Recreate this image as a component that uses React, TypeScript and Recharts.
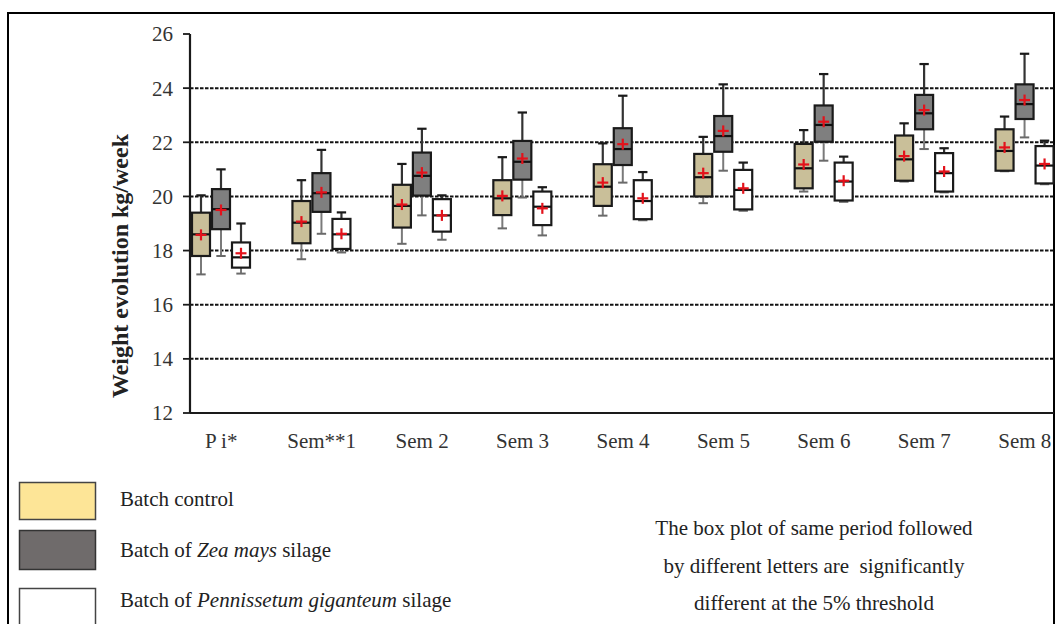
import React from "react";
import { ComposedChart, Bar, XAxis, YAxis, CartesianGrid } from "recharts";

const categories = ["P i*", "Sem**1", "Sem 2", "Sem 3", "Sem 4", "Sem 5", "Sem 6", "Sem 7", "Sem 8"];
const yTicks = [12, 14, 16, 18, 20, 22, 24, 26];
const gridValues = [14, 16, 18, 20, 22, 24];

// each entry: [min, q1, median, q3, max, mean]
const controlStats = [
  [17.12, 17.8, 18.6, 19.4, 20.04, 18.58],
  [17.68, 18.27, 19.03, 19.83, 20.6, 19.07],
  [18.25, 18.85, 19.65, 20.43, 21.2, 19.7],
  [18.82, 19.31, 19.93, 20.6, 21.45, 20.02],
  [19.29, 19.65, 20.36, 21.19, 21.96, 20.51],
  [19.75, 20.0, 20.71, 21.57, 22.2, 20.86],
  [20.18, 20.3, 21.04, 21.94, 22.45, 21.18],
  [20.55, 20.58, 21.37, 22.25, 22.7, 21.49],
  [20.93, 20.95, 21.68, 22.48, 22.95, 21.81],
];
const zeaStats = [
  [17.8, 18.79, 19.53, 20.27, 21.0, 19.5],
  [18.62, 19.43, 20.12, 20.86, 21.72, 20.15],
  [19.3, 20.03, 20.76, 21.62, 22.5, 20.88],
  [19.96, 20.62, 21.28, 22.05, 23.1, 21.4],
  [20.51, 21.16, 21.75, 22.52, 23.72, 21.93],
  [20.95, 21.65, 22.23, 22.97, 24.14, 22.42],
  [21.32, 22.02, 22.64, 23.36, 24.52, 22.76],
  [21.75, 22.48, 23.07, 23.75, 24.89, 23.19],
  [22.18, 22.86, 23.41, 24.14, 25.27, 23.56],
];
const pennStats = [
  [17.15, 17.37, 17.75, 18.3, 19.0, 17.9],
  [17.93, 18.06, 18.6, 19.17, 19.41, 18.62],
  [18.4, 18.7, 19.3, 19.9, 20.04, 19.3],
  [18.56, 18.94, 19.62, 20.18, 20.34, 19.56],
  [19.12, 19.16, 19.83, 20.6, 20.9, 19.93],
  [19.47, 19.52, 20.24, 20.98, 21.25, 20.3],
  [19.8, 19.85, 20.55, 21.25, 21.47, 20.58],
  [20.15, 20.18, 20.86, 21.6, 21.78, 20.92],
  [20.45, 20.48, 21.14, 21.86, 22.06, 21.2],
];

const data = categories.map((cat, i) => ({
  cat,
  control: controlStats[i],
  zea: zeaStats[i],
  penn: pennStats[i],
}));

const FONT = "'Liberation Serif', 'Times New Roman', serif";

const makeBoxShape = (key: string, fill: string) => (props: any) => {
  const { x, y, width, height, payload } = props;
  const s = payload[key];
  if (!s) return <g />;
  const [mn, q1, md, q3, mx, mean] = s;
  const top = Math.min(y, y + height);
  const bot = Math.max(y, y + height);
  const py = (v: number) => bot - ((v - mn) / (mx - mn)) * (bot - top);
  const cx = x + width / 2;
  const cap = width * 0.26;
  const yq1 = py(q1);
  const yq3 = py(q3);
  const ymd = py(md);
  const ymn = py(mean);
  return (
    <g>
      <line x1={cx} x2={cx} y1={py(mx)} y2={yq3} stroke="#333" strokeWidth={2.2} />
      <line x1={cx - cap} x2={cx + cap} y1={py(mx)} y2={py(mx)} stroke="#1a1a1a" strokeWidth={2.2} />
      <line x1={cx} x2={cx} y1={yq1} y2={py(mn)} stroke="#7a7a7a" strokeWidth={2} />
      <line x1={cx - cap} x2={cx + cap} y1={py(mn)} y2={py(mn)} stroke="#6a6a6a" strokeWidth={2} />
      <rect x={x} y={yq3} width={width} height={Math.max(yq1 - yq3, 0)} fill={fill} stroke="#1a1a1a" strokeWidth={2.2} />
      <line x1={x} x2={x + width} y1={ymd} y2={ymd} stroke="#111" strokeWidth={2.2} />
      <line x1={cx - 5.5} x2={cx + 5.5} y1={ymn} y2={ymn} stroke="#e3121b" strokeWidth={2.2} />
      <line x1={cx} x2={cx} y1={ymn - 5.5} y2={ymn + 5.5} stroke="#e3121b" strokeWidth={2.2} />
    </g>
  );
};

export default function App() {
  return (
    <div style={{ position: "relative", width: 1056, height: 624, background: "#fff", overflow: "hidden" }}>
      <style>{"body{margin:0;overflow:hidden;}"}</style>
      <div
        style={{
          position: "absolute",
          left: 7,
          top: 12,
          width: 1048,
          height: 700,
          border: "2px solid #000",
          boxSizing: "border-box",
        }}
      />
      <div style={{ position: "absolute", left: 0, top: 0 }}>
        <ComposedChart
          width={1056}
          height={470}
          data={data}
          margin={{ top: 34, right: 2, left: 130, bottom: 17 }}
          barSize={18}
          barGap={2}
        >
          <CartesianGrid
            vertical={false}
            horizontalValues={gridValues}
            stroke="#111"
            strokeWidth={2}
            strokeDasharray="3.5 1.5"
          />
          <XAxis
            dataKey="cat"
            type="category"
            interval={0}
            padding={{ left: -19, right: -21 }}
            axisLine={{ stroke: "#1a1a1a", strokeWidth: 2.2 }}
            tickLine={false}
            tickSize={8}
            tickMargin={12}
            height={40}
            tick={{ fontSize: 21, fill: "#333", fontFamily: FONT }}
          />
          <YAxis
            type="number"
            domain={[12, 26]}
            ticks={yTicks}
            width={60}
            axisLine={{ stroke: "#1a1a1a", strokeWidth: 2.2 }}
            tickLine={{ stroke: "#1a1a1a", strokeWidth: 1.8 }}
            tickSize={7}
            tickMargin={10}
            tick={{ fontSize: 21, fill: "#333", fontFamily: FONT }}
            allowDataOverflow
          />
          <Bar
            dataKey={(d: any) => [d.control[0], d.control[4]]}
            shape={makeBoxShape("control", "#c9bf99")}
            isAnimationActive={false}
          />
          <Bar
            dataKey={(d: any) => [d.zea[0], d.zea[4]]}
            shape={makeBoxShape("zea", "#7f7f7f")}
            isAnimationActive={false}
          />
          <Bar
            dataKey={(d: any) => [d.penn[0], d.penn[4]]}
            shape={makeBoxShape("penn", "#ffffff")}
            isAnimationActive={false}
          />
        </ComposedChart>
      </div>
      <svg
        width={1056}
        height={624}
        style={{ position: "absolute", left: 0, top: 0, pointerEvents: "none" }}
      >
        <text
          transform="translate(128,266) rotate(-90)"
          textAnchor="middle"
          fontFamily={FONT}
          fontWeight="bold"
          fontSize={24}
          fill="#222"
        >
          Weight evolution kg/week
        </text>

        <rect x={19.5} y={482.5} width={76} height={37} fill="#fde597" stroke="#444" strokeWidth={1.5} />
        <rect x={19.5} y={530.5} width={76} height={39} fill="#6f6b6b" stroke="#333" strokeWidth={1.5} />
        <rect x={19.5} y={588.5} width={76} height={60} fill="#ffffff" stroke="#444" strokeWidth={1.5} />

        <g fontFamily={FONT} fontSize={21} fill="#222">
          <text x={120} y={506}>Batch control</text>
          <text x={120} y={557}>
            Batch of <tspan fontStyle="italic">Zea mays</tspan> silage
          </text>
          <text x={120} y={607}>
            Batch of <tspan fontStyle="italic">Pennissetum giganteum</tspan> silage
          </text>
        </g>

        <g fontFamily={FONT} fontSize={21} fill="#222" textAnchor="middle">
          <text x={814} y={535} xmlSpace="preserve">The box plot of same period followed</text>
          <text x={814} y={573} xmlSpace="preserve">by different letters are  significantly</text>
          <text x={814} y={610} xmlSpace="preserve">different at the 5% threshold</text>
        </g>
      </svg>
    </div>
  );
}
